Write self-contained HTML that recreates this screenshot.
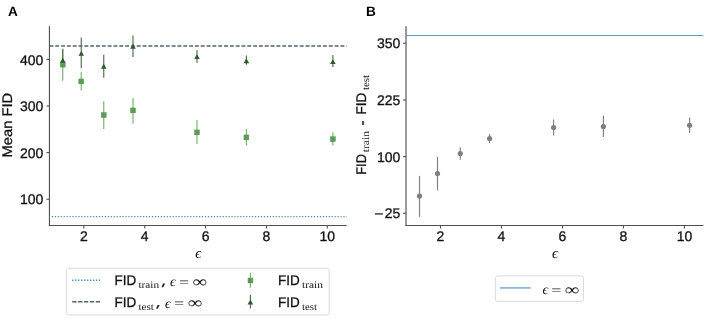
<!DOCTYPE html>
<html><head><meta charset="utf-8"><style>
html,body{margin:0;padding:0;background:#fff;width:708px;height:320px;overflow:hidden}
svg{display:block;font-family:'Liberation Sans',sans-serif;text-rendering:geometricPrecision;will-change:transform}
text:not([font-family]){stroke:#111;stroke-width:0.3px}
</style></head><body>
<svg width="708" height="320" viewBox="0 0 708 320">
<rect width="708" height="320" fill="#fff"/>
<line x1="49.45" y1="26.2" x2="49.45" y2="226.1" stroke="#505050" stroke-width="1.15"/>
<line x1="48.85" y1="225.5" x2="346.7" y2="225.5" stroke="#505050" stroke-width="1.15"/>
<line x1="46.45" y1="59.4" x2="49.45" y2="59.4" stroke="#505050" stroke-width="1.1"/>
<text x="43.4" y="64.50" font-size="14" text-anchor="end" fill="#111">400</text>
<line x1="46.45" y1="106.0" x2="49.45" y2="106.0" stroke="#505050" stroke-width="1.1"/>
<text x="43.4" y="111.10" font-size="14" text-anchor="end" fill="#111">300</text>
<line x1="46.45" y1="152.6" x2="49.45" y2="152.6" stroke="#505050" stroke-width="1.1"/>
<text x="43.4" y="157.70" font-size="14" text-anchor="end" fill="#111">200</text>
<line x1="46.45" y1="199.25" x2="49.45" y2="199.25" stroke="#505050" stroke-width="1.1"/>
<text x="43.4" y="204.35" font-size="14" text-anchor="end" fill="#111">100</text>
<line x1="83.90" y1="225.5" x2="83.90" y2="228.5" stroke="#505050" stroke-width="1.1"/>
<text x="83.90" y="240.8" font-size="14" text-anchor="middle" fill="#111">2</text>
<line x1="144.75" y1="225.5" x2="144.75" y2="228.5" stroke="#505050" stroke-width="1.1"/>
<text x="144.75" y="240.8" font-size="14" text-anchor="middle" fill="#111">4</text>
<line x1="205.60" y1="225.5" x2="205.60" y2="228.5" stroke="#505050" stroke-width="1.1"/>
<text x="205.60" y="240.8" font-size="14" text-anchor="middle" fill="#111">6</text>
<line x1="266.45" y1="225.5" x2="266.45" y2="228.5" stroke="#505050" stroke-width="1.1"/>
<text x="266.45" y="240.8" font-size="14" text-anchor="middle" fill="#111">8</text>
<line x1="327.30" y1="225.5" x2="327.30" y2="228.5" stroke="#505050" stroke-width="1.1"/>
<text x="327.30" y="240.8" font-size="14" text-anchor="middle" fill="#111">10</text>
<text x="198.3" y="258.2" font-size="15" font-family="'Liberation Serif',serif" font-style="italic" text-anchor="middle" fill="#111">&#x3f5;</text>
<text transform="translate(12.4,157.4) rotate(-90)" font-size="14" textLength="64.5" lengthAdjust="spacingAndGlyphs" fill="#111">Mean FID</text>
<text x="7.9" y="16.2" font-size="13.6" font-family="'Liberation Sans',sans-serif" font-weight="bold" fill="#000">A</text>
<line x1="49.45" y1="46" x2="346.7" y2="46" stroke="#506477" stroke-width="1.5" stroke-dasharray="3.9 1.92"/>
<line x1="48.9" y1="216.7" x2="346.7" y2="216.7" stroke="#3c86b6" stroke-width="1.25" stroke-dasharray="1.15 1.795"/>
<line x1="62.75" y1="48.6" x2="62.75" y2="80.8" stroke="#79ad6f" stroke-width="1.15"/>
<line x1="81.25" y1="71.9" x2="81.25" y2="90.6" stroke="#79ad6f" stroke-width="1.15"/>
<line x1="103.75" y1="101.3" x2="103.75" y2="129.0" stroke="#79ad6f" stroke-width="1.15"/>
<line x1="133.0" y1="98.1" x2="133.0" y2="123.8" stroke="#79ad6f" stroke-width="1.15"/>
<line x1="197.0" y1="120.0" x2="197.0" y2="144.0" stroke="#79ad6f" stroke-width="1.15"/>
<line x1="246.4" y1="129.0" x2="246.4" y2="145.6" stroke="#79ad6f" stroke-width="1.15"/>
<line x1="332.9" y1="132.5" x2="332.9" y2="145.6" stroke="#79ad6f" stroke-width="1.15"/>
<rect x="60.30" y="62.25" width="4.9" height="4.9" fill="#5a9e52" stroke="#4d8a47" stroke-width="0.4"/>
<rect x="78.80" y="78.95" width="4.9" height="4.9" fill="#5a9e52" stroke="#4d8a47" stroke-width="0.4"/>
<rect x="101.30" y="112.65" width="4.9" height="4.9" fill="#5a9e52" stroke="#4d8a47" stroke-width="0.4"/>
<rect x="130.55" y="107.95" width="4.9" height="4.9" fill="#5a9e52" stroke="#4d8a47" stroke-width="0.4"/>
<rect x="194.55" y="129.95" width="4.9" height="4.9" fill="#5a9e52" stroke="#4d8a47" stroke-width="0.4"/>
<rect x="243.95" y="134.95" width="4.9" height="4.9" fill="#5a9e52" stroke="#4d8a47" stroke-width="0.4"/>
<rect x="330.45" y="136.75" width="4.9" height="4.9" fill="#5a9e52" stroke="#4d8a47" stroke-width="0.4"/>
<line x1="62.75" y1="49.2" x2="62.75" y2="60.6" stroke="#4f6f4f" stroke-width="1.15"/>
<path d="M62.75,57.75 L65.55,62.65 L59.95,62.65 Z" fill="#2e5a2e"/>
<line x1="81.25" y1="37.5" x2="81.25" y2="68.1" stroke="#4f6f4f" stroke-width="1.15"/>
<path d="M81.25,50.95 L84.05,55.85 L78.45,55.85 Z" fill="#2e5a2e"/>
<line x1="103.75" y1="54.8" x2="103.75" y2="77.8" stroke="#4f6f4f" stroke-width="1.15"/>
<path d="M103.75,63.75 L106.55,68.65 L100.95,68.65 Z" fill="#2e5a2e"/>
<line x1="133.0" y1="35.6" x2="133.0" y2="56.9" stroke="#4f6f4f" stroke-width="1.15"/>
<path d="M133.00,43.85 L135.80,48.75 L130.20,48.75 Z" fill="#2e5a2e"/>
<line x1="197.0" y1="50.0" x2="197.0" y2="63.1" stroke="#4f6f4f" stroke-width="1.15"/>
<path d="M197.00,54.15 L199.80,59.05 L194.20,59.05 Z" fill="#2e5a2e"/>
<line x1="246.4" y1="55.6" x2="246.4" y2="64.8" stroke="#4f6f4f" stroke-width="1.15"/>
<path d="M246.40,58.25 L249.20,63.15 L243.60,63.15 Z" fill="#2e5a2e"/>
<line x1="332.9" y1="55.0" x2="332.9" y2="66.9" stroke="#4f6f4f" stroke-width="1.15"/>
<path d="M332.90,59.15 L335.70,64.05 L330.10,64.05 Z" fill="#2e5a2e"/>
<rect x="66.4" y="268.25" width="262.85" height="46.75" rx="2.5" fill="#fff" stroke="#dadada" stroke-width="1"/>
<line x1="72.2" y1="280.3" x2="100" y2="280.3" stroke="#3d8cc4" stroke-width="1.5" stroke-dasharray="1.3 1.68"/>
<line x1="72.2" y1="301.7" x2="100" y2="301.7" stroke="#506477" stroke-width="1.5" stroke-dasharray="4.3 1.6"/>
<text x="114.6" y="285.1" font-size="14" textLength="21.7" lengthAdjust="spacingAndGlyphs" fill="#111">FID</text><text x="138.50" y="287.60" font-size="10" font-family="'Liberation Serif',serif" textLength="20.6" lengthAdjust="spacingAndGlyphs" fill="#111">train</text>
<path d="M163.0,283.6 L165.2,283.6 L163.2,287.3 L161.5,287.3 Z" fill="#222"/>
<text x="170.0" y="286.30" font-size="14" font-family="'Liberation Serif',serif" font-style="italic" fill="#111">&#x3f5;</text><text x="179.0" y="287.00" font-size="14" font-family="'Liberation Serif',serif" textLength="10.1" lengthAdjust="spacingAndGlyphs" fill="#111">=</text><text x="192.5" y="286.70" font-size="16" font-family="'Liberation Serif',serif" textLength="14.6" lengthAdjust="spacingAndGlyphs" fill="#111">&#x221e;</text>
<text x="114.6" y="307.0" font-size="14" textLength="21.7" lengthAdjust="spacingAndGlyphs" fill="#111">FID</text><text x="138.50" y="309.50" font-size="10" font-family="'Liberation Serif',serif" textLength="15.4" lengthAdjust="spacingAndGlyphs" fill="#111">test</text>
<path d="M157.6,305.0 L159.7,305.0 L157.7,308.7 L156.1,308.7 Z" fill="#222"/>
<text x="165.0" y="307.60" font-size="14" font-family="'Liberation Serif',serif" font-style="italic" fill="#111">&#x3f5;</text><text x="174.0" y="308.30" font-size="14" font-family="'Liberation Serif',serif" textLength="10.1" lengthAdjust="spacingAndGlyphs" fill="#111">=</text><text x="187.7" y="308.00" font-size="16" font-family="'Liberation Serif',serif" textLength="14.6" lengthAdjust="spacingAndGlyphs" fill="#111">&#x221e;</text>
<line x1="250.4" y1="272.8" x2="250.4" y2="287.8" stroke="#79ad6f" stroke-width="1.15"/>
<rect x="248.00" y="278.05" width="4.9" height="4.9" fill="#5a9e52" stroke="#4d8a47" stroke-width="0.4"/>
<line x1="250.4" y1="294.7" x2="250.4" y2="308.4" stroke="#4f6f4f" stroke-width="1.15"/>
<path d="M250.40,299.55 L253.20,304.45 L247.60,304.45 Z" fill="#2e5a2e"/>
<text x="278.1" y="285.1" font-size="14" textLength="21.7" lengthAdjust="spacingAndGlyphs" fill="#111">FID</text><text x="302.00" y="287.60" font-size="10" font-family="'Liberation Serif',serif" textLength="20.9" lengthAdjust="spacingAndGlyphs" fill="#111">train</text>
<text x="278.1" y="307.0" font-size="14" textLength="21.7" lengthAdjust="spacingAndGlyphs" fill="#111">FID</text><text x="302.00" y="309.50" font-size="10" font-family="'Liberation Serif',serif" textLength="15.0" lengthAdjust="spacingAndGlyphs" fill="#111">test</text>
<line x1="406.0" y1="26.2" x2="406.0" y2="226.1" stroke="#505050" stroke-width="1.15"/>
<line x1="405.4" y1="225.5" x2="703.4" y2="225.5" stroke="#505050" stroke-width="1.15"/>
<line x1="403.0" y1="43.25" x2="406.0" y2="43.25" stroke="#505050" stroke-width="1.1"/>
<text x="400.4" y="48.35" font-size="14" text-anchor="end" fill="#111">350</text>
<line x1="403.0" y1="100.0" x2="406.0" y2="100.0" stroke="#505050" stroke-width="1.1"/>
<text x="400.4" y="105.10" font-size="14" text-anchor="end" fill="#111">225</text>
<line x1="403.0" y1="156.6" x2="406.0" y2="156.6" stroke="#505050" stroke-width="1.1"/>
<text x="400.4" y="161.70" font-size="14" text-anchor="end" fill="#111">100</text>
<line x1="403.0" y1="213.3" x2="406.0" y2="213.3" stroke="#505050" stroke-width="1.1"/>
<text x="400.4" y="218.40" font-size="14" text-anchor="end" fill="#111">25</text>
<line x1="440.50" y1="225.5" x2="440.50" y2="228.5" stroke="#505050" stroke-width="1.1"/>
<text x="440.50" y="240.8" font-size="14" text-anchor="middle" fill="#111">2</text>
<line x1="501.48" y1="225.5" x2="501.48" y2="228.5" stroke="#505050" stroke-width="1.1"/>
<text x="501.48" y="240.8" font-size="14" text-anchor="middle" fill="#111">4</text>
<line x1="562.46" y1="225.5" x2="562.46" y2="228.5" stroke="#505050" stroke-width="1.1"/>
<text x="562.46" y="240.8" font-size="14" text-anchor="middle" fill="#111">6</text>
<line x1="623.44" y1="225.5" x2="623.44" y2="228.5" stroke="#505050" stroke-width="1.1"/>
<text x="623.44" y="240.8" font-size="14" text-anchor="middle" fill="#111">8</text>
<line x1="684.42" y1="225.5" x2="684.42" y2="228.5" stroke="#505050" stroke-width="1.1"/>
<text x="684.42" y="240.8" font-size="14" text-anchor="middle" fill="#111">10</text>
<text x="555.0" y="258.3" font-size="15" font-family="'Liberation Serif',serif" font-style="italic" text-anchor="middle" fill="#111">&#x3f5;</text>
<text x="366.0" y="16.4" font-size="13.6" font-family="'Liberation Sans',sans-serif" font-weight="bold" fill="#000">B</text>
<rect x="362" y="121" width="2.1" height="4" fill="#505050"/>
<g transform="translate(366.3,174.7) rotate(-90)" fill="#111"><text x="0" y="0" font-size="14" textLength="20.6" lengthAdjust="spacingAndGlyphs">FID</text><text x="22.4" y="2.8" font-size="10" font-family="'Liberation Serif',serif" textLength="21.4" lengthAdjust="spacingAndGlyphs">train</text><text x="60.3" y="0" font-size="14" textLength="21.8" lengthAdjust="spacingAndGlyphs">FID</text><text x="84.6" y="2.8" font-size="10" font-family="'Liberation Serif',serif" textLength="15.2" lengthAdjust="spacingAndGlyphs">test</text></g>
<line x1="406.0" y1="35.45" x2="703.4" y2="35.45" stroke="#5c9ac8" stroke-width="1.15"/>
<line x1="419.5" y1="175.9" x2="419.5" y2="216.8" stroke="#7f7f7f" stroke-width="1.15"/>
<circle cx="419.5" cy="196.1" r="2.6" fill="#7f7f7f"/>
<line x1="437.5" y1="156.9" x2="437.5" y2="190.4" stroke="#7f7f7f" stroke-width="1.15"/>
<circle cx="437.5" cy="173.6" r="2.6" fill="#7f7f7f"/>
<line x1="460.25" y1="147.25" x2="460.25" y2="159.75" stroke="#7f7f7f" stroke-width="1.15"/>
<circle cx="460.25" cy="153.5" r="2.6" fill="#7f7f7f"/>
<line x1="489.6" y1="134.0" x2="489.6" y2="143.1" stroke="#7f7f7f" stroke-width="1.15"/>
<circle cx="489.6" cy="138.5" r="2.6" fill="#7f7f7f"/>
<line x1="553.6" y1="119.4" x2="553.6" y2="135.6" stroke="#7f7f7f" stroke-width="1.15"/>
<circle cx="553.6" cy="127.5" r="2.6" fill="#7f7f7f"/>
<line x1="603.4" y1="115.6" x2="603.4" y2="136.9" stroke="#7f7f7f" stroke-width="1.15"/>
<circle cx="603.4" cy="126.5" r="2.6" fill="#7f7f7f"/>
<line x1="689.6" y1="117.5" x2="689.6" y2="133.1" stroke="#7f7f7f" stroke-width="1.15"/>
<circle cx="689.6" cy="125.25" r="2.6" fill="#7f7f7f"/>
<rect x="374.9" y="213.3" width="8.0" height="1.25" fill="#1a1a1a"/>
<rect x="495.4" y="275.9" width="88.1" height="25.5" rx="2.5" fill="#fff" stroke="#dadada" stroke-width="1"/>
<line x1="500" y1="287.9" x2="530.6" y2="287.9" stroke="#7fb2d6" stroke-width="1.6"/>
<text x="542.5" y="294.10" font-size="14" font-family="'Liberation Serif',serif" font-style="italic" fill="#111">&#x3f5;</text><text x="551.3" y="294.80" font-size="14" font-family="'Liberation Serif',serif" textLength="10.1" lengthAdjust="spacingAndGlyphs" fill="#111">=</text><text x="564.8" y="294.50" font-size="16" font-family="'Liberation Serif',serif" textLength="14.6" lengthAdjust="spacingAndGlyphs" fill="#111">&#x221e;</text>
</svg>
</body></html>
